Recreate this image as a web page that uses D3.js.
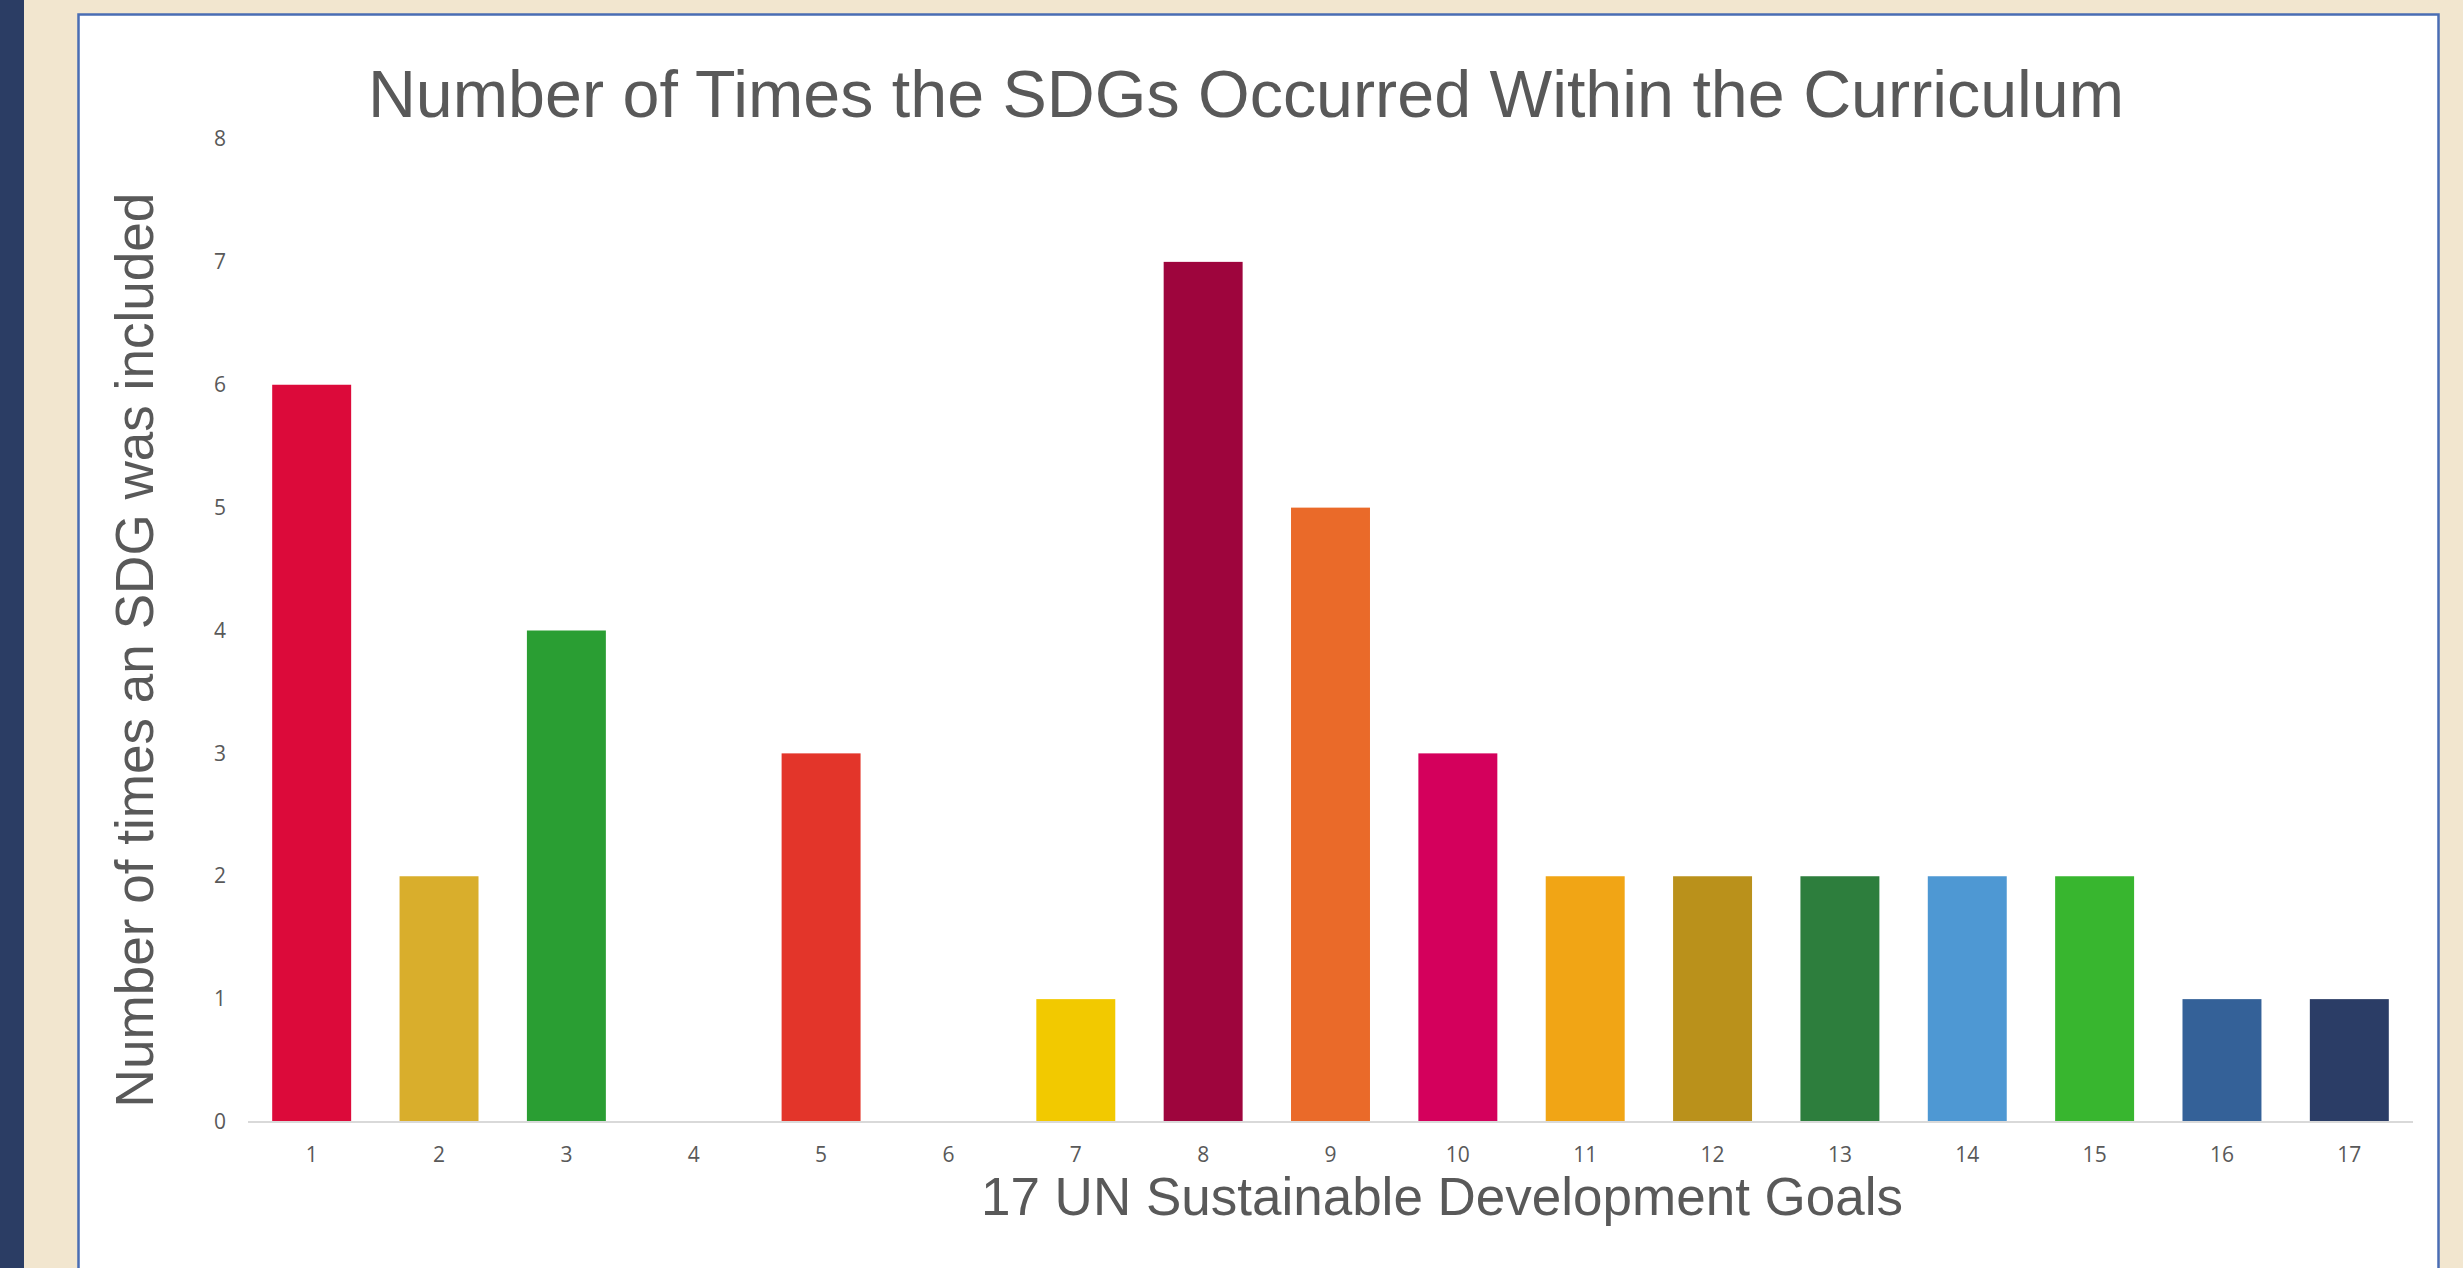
<!DOCTYPE html>
<html>
<head>
<meta charset="utf-8">
<script src="https://cdn.jsdelivr.net/npm/d3@7"></script>
<style>
  html, body { margin: 0; padding: 0; background: #f2e6cf; overflow: hidden; }
  svg { display: block; }
</style>
</head>
<body>
<svg id="chart"></svg>
<script>
const goals = ["1","2","3","4","5","6","7","8","9","10","11","12","13","14","15","16","17"];
const counts = [6, 2, 4, 0, 3, 0, 1, 7, 5, 3, 2, 2, 2, 2, 2, 1, 1];
const goalColors = ["#dc0a3a","#d9ae2c","#2a9e33","#c5192d","#e3352a","#26bde2","#f2c900","#9e053d",
                    "#ea6a29","#d4005c","#f1a515","#ba911b","#2d7e3d","#4e98d3","#38b62f","#346198","#2b3d66"];
const yTicks = [0, 1, 2, 3, 4, 5, 6, 7, 8];

const W = 2463, H = 1268;
const svg = d3.select("#chart").attr("width", W).attr("height", H);

// page background: navy strip + beige
svg.append("rect").attr("width", W).attr("height", H).attr("fill", "#f2e6cf");
svg.append("rect").attr("width", 24).attr("height", H).attr("fill", "#2b3d64");

// white chart box with blue border (runs off the bottom)
svg.append("rect")
  .attr("x", 78.5).attr("y", 14.5)
  .attr("width", 2360).attr("height", H + 20)
  .attr("fill", "#fff")
  .attr("stroke", "#4a6db4")
  .attr("stroke-width", 2.5);

const margin = { top: 139, left: 248, right: 2413, bottom: 1122 };

const x = d3.scaleBand()
  .domain(goals)
  .range([margin.left, margin.right])
  .paddingInner(0.38)
  .paddingOuter(0.19);

const y = d3.scaleLinear()
  .domain([0, 8])
  .range([margin.bottom, margin.top]);

const color = d3.scaleOrdinal(goals, goalColors);

// bars
svg.append("g")
  .selectAll("rect")
  .data(goals.map((g, i) => ({ goal: g, n: counts[i] })))
  .join("rect")
  .attr("x", d => x(d.goal))
  .attr("y", d => y(d.n))
  .attr("width", x.bandwidth())
  .attr("height", d => y(0) - y(d.n))
  .attr("fill", d => color(d.goal));

const font = "'Open Sans', 'Liberation Sans', sans-serif";

// y axis: labels only
const yAxis = svg.append("g")
  .attr("transform", `translate(${margin.left - 22},0)`)
  .call(d3.axisLeft(y).tickValues(yTicks).tickSize(0).tickPadding(0));
yAxis.select(".domain").remove();
yAxis.selectAll("text")
  .attr("fill", "#595959")
  .style("font-family", font)
  .style("font-size", "21px");

// x axis with light baseline
const xAxis = svg.append("g")
  .attr("transform", `translate(0,${margin.bottom})`)
  .call(d3.axisBottom(x).tickSize(0).tickPadding(25));
xAxis.select(".domain")
  .attr("stroke", "#d9d9d9")
  .attr("stroke-width", 2)
  .attr("d", `M${margin.left},0H${margin.right}`);
xAxis.selectAll("text")
  .attr("fill", "#595959")
  .style("font-family", font)
  .style("font-size", "21px");

// titles, fitted to the widths seen in the reference
function fitText(sel, width, base) {
  const len = sel.node().getComputedTextLength();
  sel.style("font-size", (base * width / len).toFixed(1) + "px");
}

const title = svg.append("text")
  .attr("x", 1246).attr("y", 117)
  .attr("text-anchor", "middle")
  .attr("fill", "#595959")
  .style("font-family", "'Liberation Sans', Arial, sans-serif")
  .style("font-size", "66px")
  .text("Number of Times the SDGs Occurred Within the Curriculum");
fitText(title, 1757, 66);

const xTitle = svg.append("text")
  .attr("x", 1442).attr("y", 1215)
  .attr("text-anchor", "middle")
  .attr("fill", "#595959")
  .style("font-family", "'Liberation Sans', Arial, sans-serif")
  .style("font-size", "56px")
  .text("17 UN Sustainable Development Goals");
fitText(xTitle, 922, 56);

const yTitle = svg.append("text")
  .attr("transform", "translate(153,650) rotate(-90)")
  .attr("text-anchor", "middle")
  .attr("fill", "#595959")
  .style("font-family", "'Liberation Sans', Arial, sans-serif")
  .style("font-size", "56px")
  .text("Number of times an SDG was included");
fitText(yTitle, 915, 56);
</script>
</body>
</html>
